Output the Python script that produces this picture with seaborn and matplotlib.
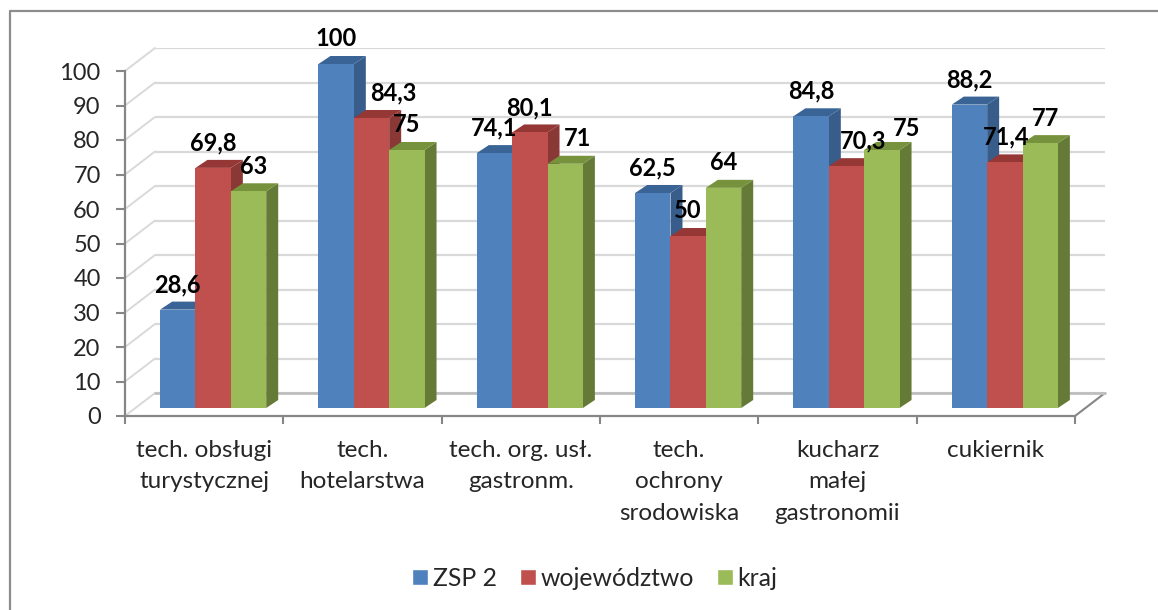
import matplotlib
matplotlib.use("Agg")
import matplotlib.pyplot as plt
from matplotlib.lines import Line2D
from matplotlib.patches import Polygon
from matplotlib.transforms import IdentityTransform
import pandas as pd
import seaborn as sns

categories = ["tech. obsługi\nturystycznej", "tech.\nhotelarstwa", "tech. org. usł.\ngastronm.",
              "tech.\nochrony\nsrodowiska", "kucharz\nmałej\ngastronomii", "cukiernik"]
series_names = ["ZSP 2", "województwo", "kraj"]
zsp2 = [28.6, 100, 74.1, 62.5, 84.8, 88.2]
wojewodztwo = [69.8, 84.3, 80.1, 50, 70.3, 71.4]
kraj = [63, 75, 71, 64, 75, 77]
y_ticks = list(range(0, 101, 10))

front_colors = ["#4F81BD", "#C0504D", "#9BBB59"]
top_colors = ["#3A6496", "#953735", "#76923C"]
side_colors = ["#385D8A", "#8A3836", "#667A38"]
label_nudge_x = [[0, 0, 5], [0, 22, 0], [0, 0, 12], [0, 0, 0], [0, 17, 25], [0, 1, 5]]
label_nudge_y = [[0, 0, 0], [0, 0, 0], [0, 0, 0], [0, 0, 0], [0, 0, -4], [0, 0, 0]]

W, H = 1158, 610
AXIS = "#868686"
GRID = "#D9D9D9"
TEXT = "#262626"

sns.set_theme(style="white")
plt.rcParams["font.family"] = ["Lato", "DejaVu Sans"]


def px_axes(fig, left, right, top, bottom, **kw):
    return fig.add_axes([left / W, 1 - bottom / H, (right - left) / W, (bottom - top) / H], **kw)


df = pd.DataFrame({
    "zawod": categories * 3,
    "seria": [s for s in series_names for _ in categories],
    "wartosc": zsp2 + wojewodztwo + kraj,
})

fig = plt.figure(figsize=(W / 100, H / 100), dpi=100, facecolor="white")

# back wall, only gridlines
ax_back = px_axes(fig, 155, 1105, 48, 393, zorder=1)
ax_back.set_xlim(-0.5, 5.5)
ax_back.set_ylim(0, 100)
ax_back.set_xticks([])
ax_back.set_yticks(y_ticks)
ax_back.set_yticklabels([])
ax_back.tick_params(left=False)
ax_back.grid(axis="y", color=GRID, lw=1.6)
ax_back.patch.set_visible(False)
sns.despine(ax=ax_back, left=True, bottom=True)

# front plane, real axis ticks and labels
ax_front = px_axes(fig, 125, 1075, 71, 416, zorder=2)
ax_front.patch.set_visible(False)
ax_front.set_xlim(-0.5, 5.5)
ax_front.set_ylim(0, 100)
ax_front.set_yticks(y_ticks)
ax_front.set_xticks([i - 0.5 for i in range(len(categories) + 1)])
ax_front.set_xticklabels([])
ax_front.set_xticks(range(len(categories)), categories, minor=True)
ax_front.tick_params(axis="x", which="major", length=5.5, width=1.5, color=AXIS, bottom=True)
ax_front.tick_params(axis="x", which="minor", length=0, pad=17, labelsize=17.5, labelcolor=TEXT)
ax_front.tick_params(axis="y", length=6.5, width=1.5, color=AXIS, pad=11, labelsize=17,
                     labelcolor=TEXT, left=True)
for lab in ax_front.get_xticklabels(minor=True):
    lab.set_linespacing(1.62)
    lab.set_verticalalignment("top")
sns.despine(ax=ax_front)
for name in ["left", "bottom"]:
    ax_front.spines[name].set_color(AXIS)
    ax_front.spines[name].set_linewidth(1.6)

# side wall and floor diagonals, front axis to back wall
for v in y_ticks:
    x0, y0 = ax_front.transData.transform((-0.5, v))
    x1, y1 = ax_back.transData.transform((-0.5, v))
    fig.add_artist(Line2D([x0, x1], [y0, y1], transform=IdentityTransform(), color=GRID, lw=1.4, zorder=1))
x0, y0 = ax_front.transData.transform((5.5, 0))
x1, y1 = ax_back.transData.transform((5.5, 0))
fig.add_artist(Line2D([x0, x1], [y0, y1], transform=IdentityTransform(), color=AXIS, lw=1.5, zorder=1))
ax_back.axhline(0, color="#BFBFBF", lw=2, clip_on=False)

# bars on a plane between front axis and back wall
ax = px_axes(fig, 134, 1084, 64, 408, zorder=3)
ax.patch.set_visible(False)
sns.barplot(data=df, x="zawod", y="wartosc", hue="seria", hue_order=series_names, order=categories,
            palette=front_colors, saturation=1, width=0.67, gap=0, legend=True, ax=ax)
ax.set_xlim(-0.5, 5.5)
ax.set_ylim(0, 100)
ax.axis("off")

# px sizes of the bar depth, converted to data units
dx = 12 * 6 / 950
dy = 8 * 100 / 344

for s, container in enumerate(ax.containers):
    for c, bar in enumerate(container):
        x, w, h = bar.get_x(), bar.get_width(), bar.get_height()
        z = 3 + c * 3 + s * 0.3
        bar.set_zorder(z + 0.2)
        bar.set_linewidth(0)
        ax.add_patch(Polygon([(x + w, 0), (x + w + dx, dy), (x + w + dx, h + dy), (x + w, h)],
                             closed=True, fc=side_colors[s], ec="none", zorder=z, clip_on=False))
        ax.add_patch(Polygon([(x, h), (x + dx, h + dy), (x + w + dx, h + dy), (x + w, h)],
                             closed=True, fc=top_colors[s], ec="none", zorder=z + 0.1, clip_on=False))
        ax.annotate(f"{h:g}".replace(".", ","), (x + w / 2, h),
                    xytext=(label_nudge_x[c][s] * 0.72, (25 + label_nudge_y[c][s]) * 0.72),
                    textcoords="offset points", ha="center", va="center", fontsize=17,
                    color="black", fontweight="bold", zorder=100, annotation_clip=False)

ax.legend(title=None, ncol=3, loc="center", bbox_to_anchor=(595 / W, 1 - 578 / H),
          bbox_transform=fig.transFigure, frameon=False, fontsize=17.8, labelcolor=TEXT,
          handlelength=0.62, handleheight=0.62, handletextpad=0.2, columnspacing=0.95)

# picture frame, cut on right and bottom
fig.add_artist(Line2D([9.5, 9.5, W], [0, H - 11, H - 11], transform=IdentityTransform(),
                      color="#8C8C8C", lw=1.6, zorder=0))

fig.savefig("out.png", dpi=100)
